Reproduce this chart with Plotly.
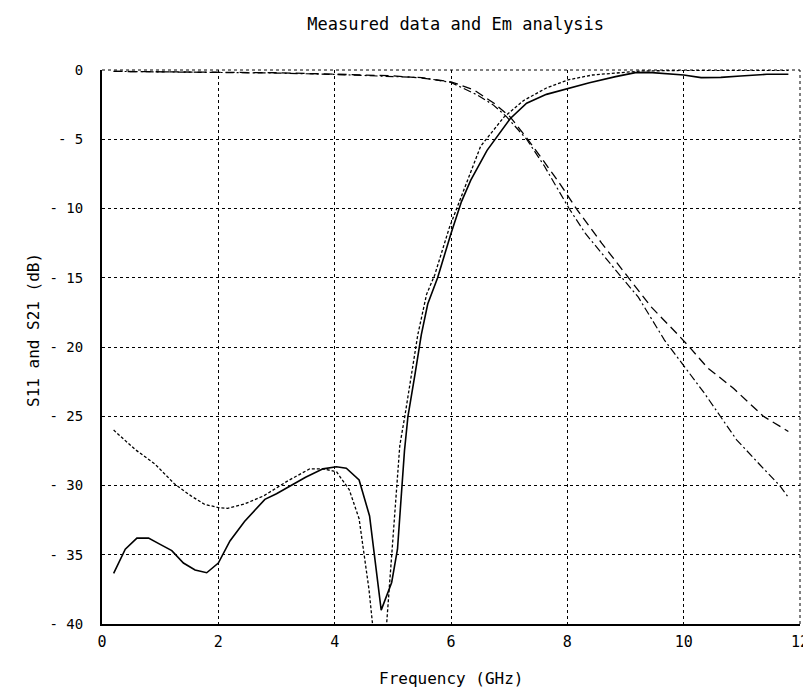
import plotly.graph_objects as go

# S11 measured (solid)
s11_meas_f = [0.2, 0.4, 0.6, 0.8, 1.0, 1.2, 1.4, 1.6, 1.8, 2.0, 2.2, 2.45, 2.8, 3.0, 3.25, 3.5, 3.8,
              4.03, 4.2, 4.42, 4.6, 4.8, 4.98, 5.08, 5.2, 5.26, 5.38, 5.49, 5.6, 5.77, 6.0, 6.18, 6.34,
              6.62, 7.02, 7.3, 7.64, 8.0, 8.38, 8.83, 9.17, 9.4, 9.74, 10.0, 10.3, 10.64, 10.98, 11.43, 11.8]
s11_meas_db = [-36.35, -34.6, -33.8, -33.8, -34.25, -34.7, -35.6, -36.1, -36.3, -35.6, -34.0, -32.6, -31.0,
               -30.6, -30.0, -29.4, -28.8, -28.65, -28.75, -29.6, -32.2, -39.0, -37.0, -34.6, -27.5, -25.0,
               -22.0, -19.1, -16.9, -15.0, -11.8, -9.5, -7.95, -5.8, -3.5, -2.4, -1.76, -1.33, -0.92, -0.48,
               -0.19, -0.17, -0.29, -0.36, -0.55, -0.53, -0.43, -0.31, -0.31]

# S11 EM analysis (dotted)
s11_em_f = [0.2, 0.57, 0.91, 1.25, 1.53, 1.76, 2.0, 2.16, 2.44, 2.78, 3.18, 3.57, 3.8, 4.03, 4.25, 4.42,
            4.59, 4.7, 4.77, 4.86, 4.99, 5.12, 5.21, 5.32, 5.43, 5.58, 5.72, 5.97, 6.23, 6.51, 6.91, 7.25,
            7.64, 8.01, 8.43, 8.89, 9.28, 10.0, 11.0, 11.8]
s11_em_db = [-26.0, -27.4, -28.45, -29.9, -30.75, -31.35, -31.6, -31.65, -31.35, -30.75, -29.7, -28.8,
             -28.8, -29.0, -30.3, -32.4, -37.5, -42.0, -47.0, -42.0, -34.6, -27.1, -24.9, -22.0, -19.1,
             -16.2, -14.8, -11.4, -8.5, -5.5, -3.4, -2.2, -1.3, -0.72, -0.36, -0.19, -0.07, -0.03, -0.02, -0.02]

# S21 (long dashes)
s21_a_f = [0.2, 1.0, 2.0, 3.0, 4.0, 4.5, 5.0, 5.5, 6.0, 6.4, 6.74, 7.02, 7.3, 7.58, 7.87, 8.09, 8.17,
           8.59, 9.05, 9.44, 9.9, 10.12, 10.41, 10.86, 11.37, 11.8]
s21_a_db = [-0.1, -0.12, -0.15, -0.2, -0.3, -0.35, -0.42, -0.58, -0.85, -1.45, -2.4, -3.4, -4.9, -6.5,
            -8.2, -9.6, -10.1, -12.5, -15.0, -17.1, -19.1, -20.1, -21.5, -23.0, -25.0, -26.1]

# S21 (dash-dot)
s21_b_f = [0.2, 1.0, 2.0, 3.0, 4.0, 4.5, 5.0, 5.5, 6.0, 6.44, 6.72, 6.95, 7.3, 7.6, 8.03, 8.31, 8.88,
           9.22, 9.67, 10.01, 10.35, 10.63, 10.91, 11.31, 11.65, 11.79]
s21_b_db = [-0.1, -0.13, -0.17, -0.22, -0.32, -0.38, -0.45, -0.55, -0.9, -1.78, -2.5, -3.35, -5.0, -6.9,
            -10.0, -11.8, -14.7, -16.4, -19.5, -21.4, -23.3, -25.0, -26.7, -28.5, -30.0, -30.8]

x_ticks = [0, 2, 4, 6, 8, 10, 12]
y_ticks = [0, -5, -10, -15, -20, -25, -30, -35, -40]
y_ticktext = ["0", "- 5", "- 10", "- 15", "- 20", "- 25", "- 30", "- 35", "- 40"]

FONT = "DejaVu Sans Mono"

fig = go.Figure()
fig.add_trace(go.Scatter(x=s11_meas_f, y=s11_meas_db, mode="lines",
                         line=dict(color="black", width=1.6), name="S11 measured"))
fig.add_trace(go.Scatter(x=s11_em_f, y=s11_em_db, mode="lines",
                         line=dict(color="black", width=1.3, dash="3px,2px"), name="S11 EM"))
fig.add_trace(go.Scatter(x=s21_a_f, y=s21_a_db, mode="lines",
                         line=dict(color="black", width=1.3, dash="9px,5px"), name="S21 a"))
fig.add_trace(go.Scatter(x=s21_b_f, y=s21_b_db, mode="lines",
                         line=dict(color="black", width=1.2, dash="8px,3px,2px,3px"), name="S21 b"))

fig.update_layout(
    width=811, height=692,
    margin=dict(l=94, r=10, t=62, b=76),
    paper_bgcolor="white", plot_bgcolor="white",
    showlegend=False,
    font=dict(family=FONT, size=16, color="black"),
    title=dict(text="Measured data and Em analysis", x=0.552, xanchor="center",
               y=1 - 16 / 692, yanchor="middle", yref="container",
               font=dict(family=FONT, size=17, color="black")),
)
fig.update_xaxes(range=[0, 12], tickvals=x_ticks, ticktext=[str(v) for v in x_ticks],
                 showgrid=True, gridcolor="black", gridwidth=1, griddash="dot",
                 showline=True, linecolor="black", linewidth=2, mirror=False,
                 zeroline=False, ticks="", ticklabelstandoff=3,
                 tickfont=dict(family=FONT, size=15, color="black"))
fig.update_yaxes(range=[-40, 0], tickvals=y_ticks, ticktext=y_ticktext,
                 showgrid=True, gridcolor="black", gridwidth=1, griddash="dot",
                 showline=True, linecolor="black", linewidth=2, mirror=False,
                 zeroline=False, ticks="", ticklabelstandoff=14,
                 tickfont=dict(family=FONT, size=14, color="black"))

# border on top and right drawn dotted like the grid
fig.add_shape(type="line", xref="paper", yref="paper", x0=0, x1=1, y0=1, y1=1,
              line=dict(color="black", width=1, dash="dot"))
fig.add_shape(type="line", xref="paper", yref="paper", x0=1, x1=1, y0=0, y1=1,
              line=dict(color="black", width=1, dash="dot"))

fig.add_annotation(text="Frequency (GHz)", xref="paper", yref="paper", x=0.5, y=0,
                   xanchor="center", yanchor="middle", yshift=-54, showarrow=False,
                   font=dict(family=FONT, size=16, color="black"))
fig.add_annotation(text="S11 and S21 (dB)", xref="paper", yref="paper", x=0, y=0.5,
                   xanchor="center", yanchor="middle", xshift=-69, yshift=17, textangle=-90,
                   showarrow=False, font=dict(family=FONT, size=16, color="black"))

fig.write_html("out.html")
